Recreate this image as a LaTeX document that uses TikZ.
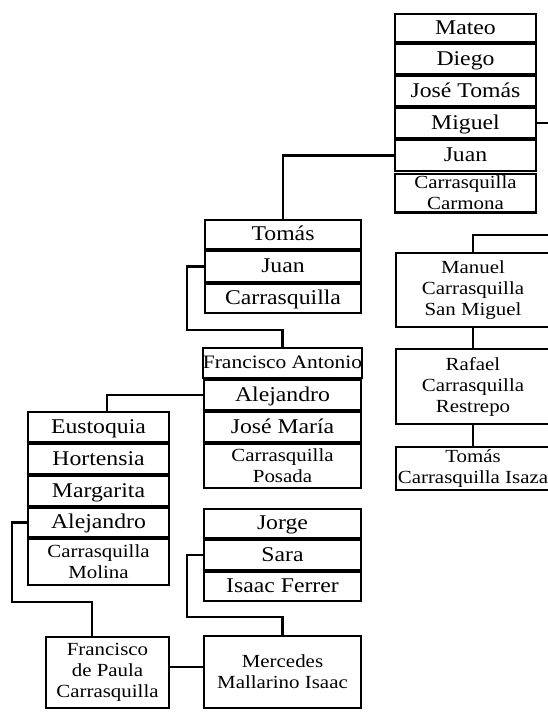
\documentclass[tikz,border=0pt]{standalone}
\usepackage{fontspec}
\setmainfont{Liberation Serif}[FakeStretch=1.13]
\begin{document}
\begin{tikzpicture}[x=1pt,y=-1pt,
  box/.style={draw, line width=2.1pt, inner sep=0pt, outer sep=0pt},
  cell/.style 2 args={box, minimum width=#1pt-2.1pt, minimum height=#2pt-2.1pt},
  big/.style={font=\fontsize{21}{24}\selectfont, text height=15.5pt, text depth=3pt},
  mid/.style={font=\fontsize{19}{22}\selectfont, text height=14.5pt, text depth=3pt},
  small/.style={font=\fontsize{18.5}{21}\selectfont, align=center},
  link/.style={draw, line width=2.1pt}]
\useasboundingbox (0,0) rectangle (548,713);
\fill[white] (0,0) rectangle (548,713);

% family of Juan Carrasquilla Carmona
\node[cell={143}{30}, big] (a1) at (465.5,28) {Mateo};
\node[cell={143}{32}, big] (a2) at (465.5,59) {Diego};
\node[cell={143}{32}, big] (a3) at (465.5,91) {José Tomás};
\node[cell={143}{32}, big] (a4) at (465.5,123) {Miguel};
\node[cell={143}{33}, big] (a5) at (465.5,155.5) {Juan};
\node[cell={143}{41}, small] (a6) at (465.5,193) {Carrasquilla\\Carmona};

% Tomás, Juan Carrasquilla
\node[cell={158}{31}, big] (b1) at (283,234.5) {Tomás};
\node[cell={158}{33}, big] (b2) at (283,266.5) {Juan};
\node[cell={158}{31}, big] (b3) at (283,298.5) {Carrasquilla};

% Carrasquilla Posada
\node[cell={159}{32}, mid] (c1) at (282.5,363) {Francisco Antonio};
\node[cell={159}{32}, big] (c2) at (282.5,395) {Alejandro};
\node[cell={159}{32}, big] (c3) at (282.5,427) {José María};
\node[cell={159}{46}, small] (c4) at (282.5,466) {Carrasquilla\\Posada};

% Jorge, Sara, Isaac Ferrer
\node[cell={159}{31}, big] (d1) at (282.5,523.5) {Jorge};
\node[cell={159}{32}, big] (d2) at (282.5,555) {Sara};
\node[cell={159}{31}, big] (d3) at (282.5,586.5) {Isaac Ferrer};

% Carrasquilla Molina
\node[cell={143}{32}, big] (f1) at (98.5,427) {Eustoquia};
\node[cell={143}{32}, big] (f2) at (98.5,459) {Hortensia};
\node[cell={143}{32}, big] (f3) at (98.5,491) {Margarita};
\node[cell={143}{31}, big] (f4) at (98.5,522.5) {Alejandro};
\node[cell={143}{48}, small] (f5) at (98.5,562) {Carrasquilla\\Molina};

% Francisco de Paula and Mercedes
\node[cell={125}{73}, small] (g) at (107.5,672.5) {Francisco\\de Paula\\Carrasquilla};
\node[cell={159}{74}, small] (h) at (282.5,672) {Mercedes\\Mallarino Isaac};

% line of Miguel
\node[cell={156}{76}, small] (m) at (473,290) {Manuel\\Carrasquilla\\San Miguel};
\node[cell={156}{77}, small] (r) at (473,386.5) {Rafael\\Carrasquilla\\Restrepo};
\node[cell={156}{45}, small] (t) at (473,468.5) {Tomás\\Carrasquilla Isaza};

% connectors
\coordinate (k1) at (560,235);
\coordinate (k2) at (187,330);
\coordinate (k3) at (12,602);
\coordinate (k4) at (187,617);
\path[link] (a5.west) -| (b1.north);
\path[link] (a4.east) -| (k1) -| (m.north);
\path[link] (m.south) -- (r.north);
\path[link] (r.south) -- (t.north);
\path[link] (b2.west) -| (k2) -| (c1.north);
\path[link] (c2.west) -| ([xshift=8.5pt]f1.north);
\path[link] (f4.west) -| (k3) -| ([xshift=-15.5pt]g.north);
\path[link] (d2.west) -| (k4) -| (h.north);
\path[link] ([yshift=5.5pt]g.east) -- ([yshift=5.5pt]g.east -| h.west);
\end{tikzpicture}
\end{document}
